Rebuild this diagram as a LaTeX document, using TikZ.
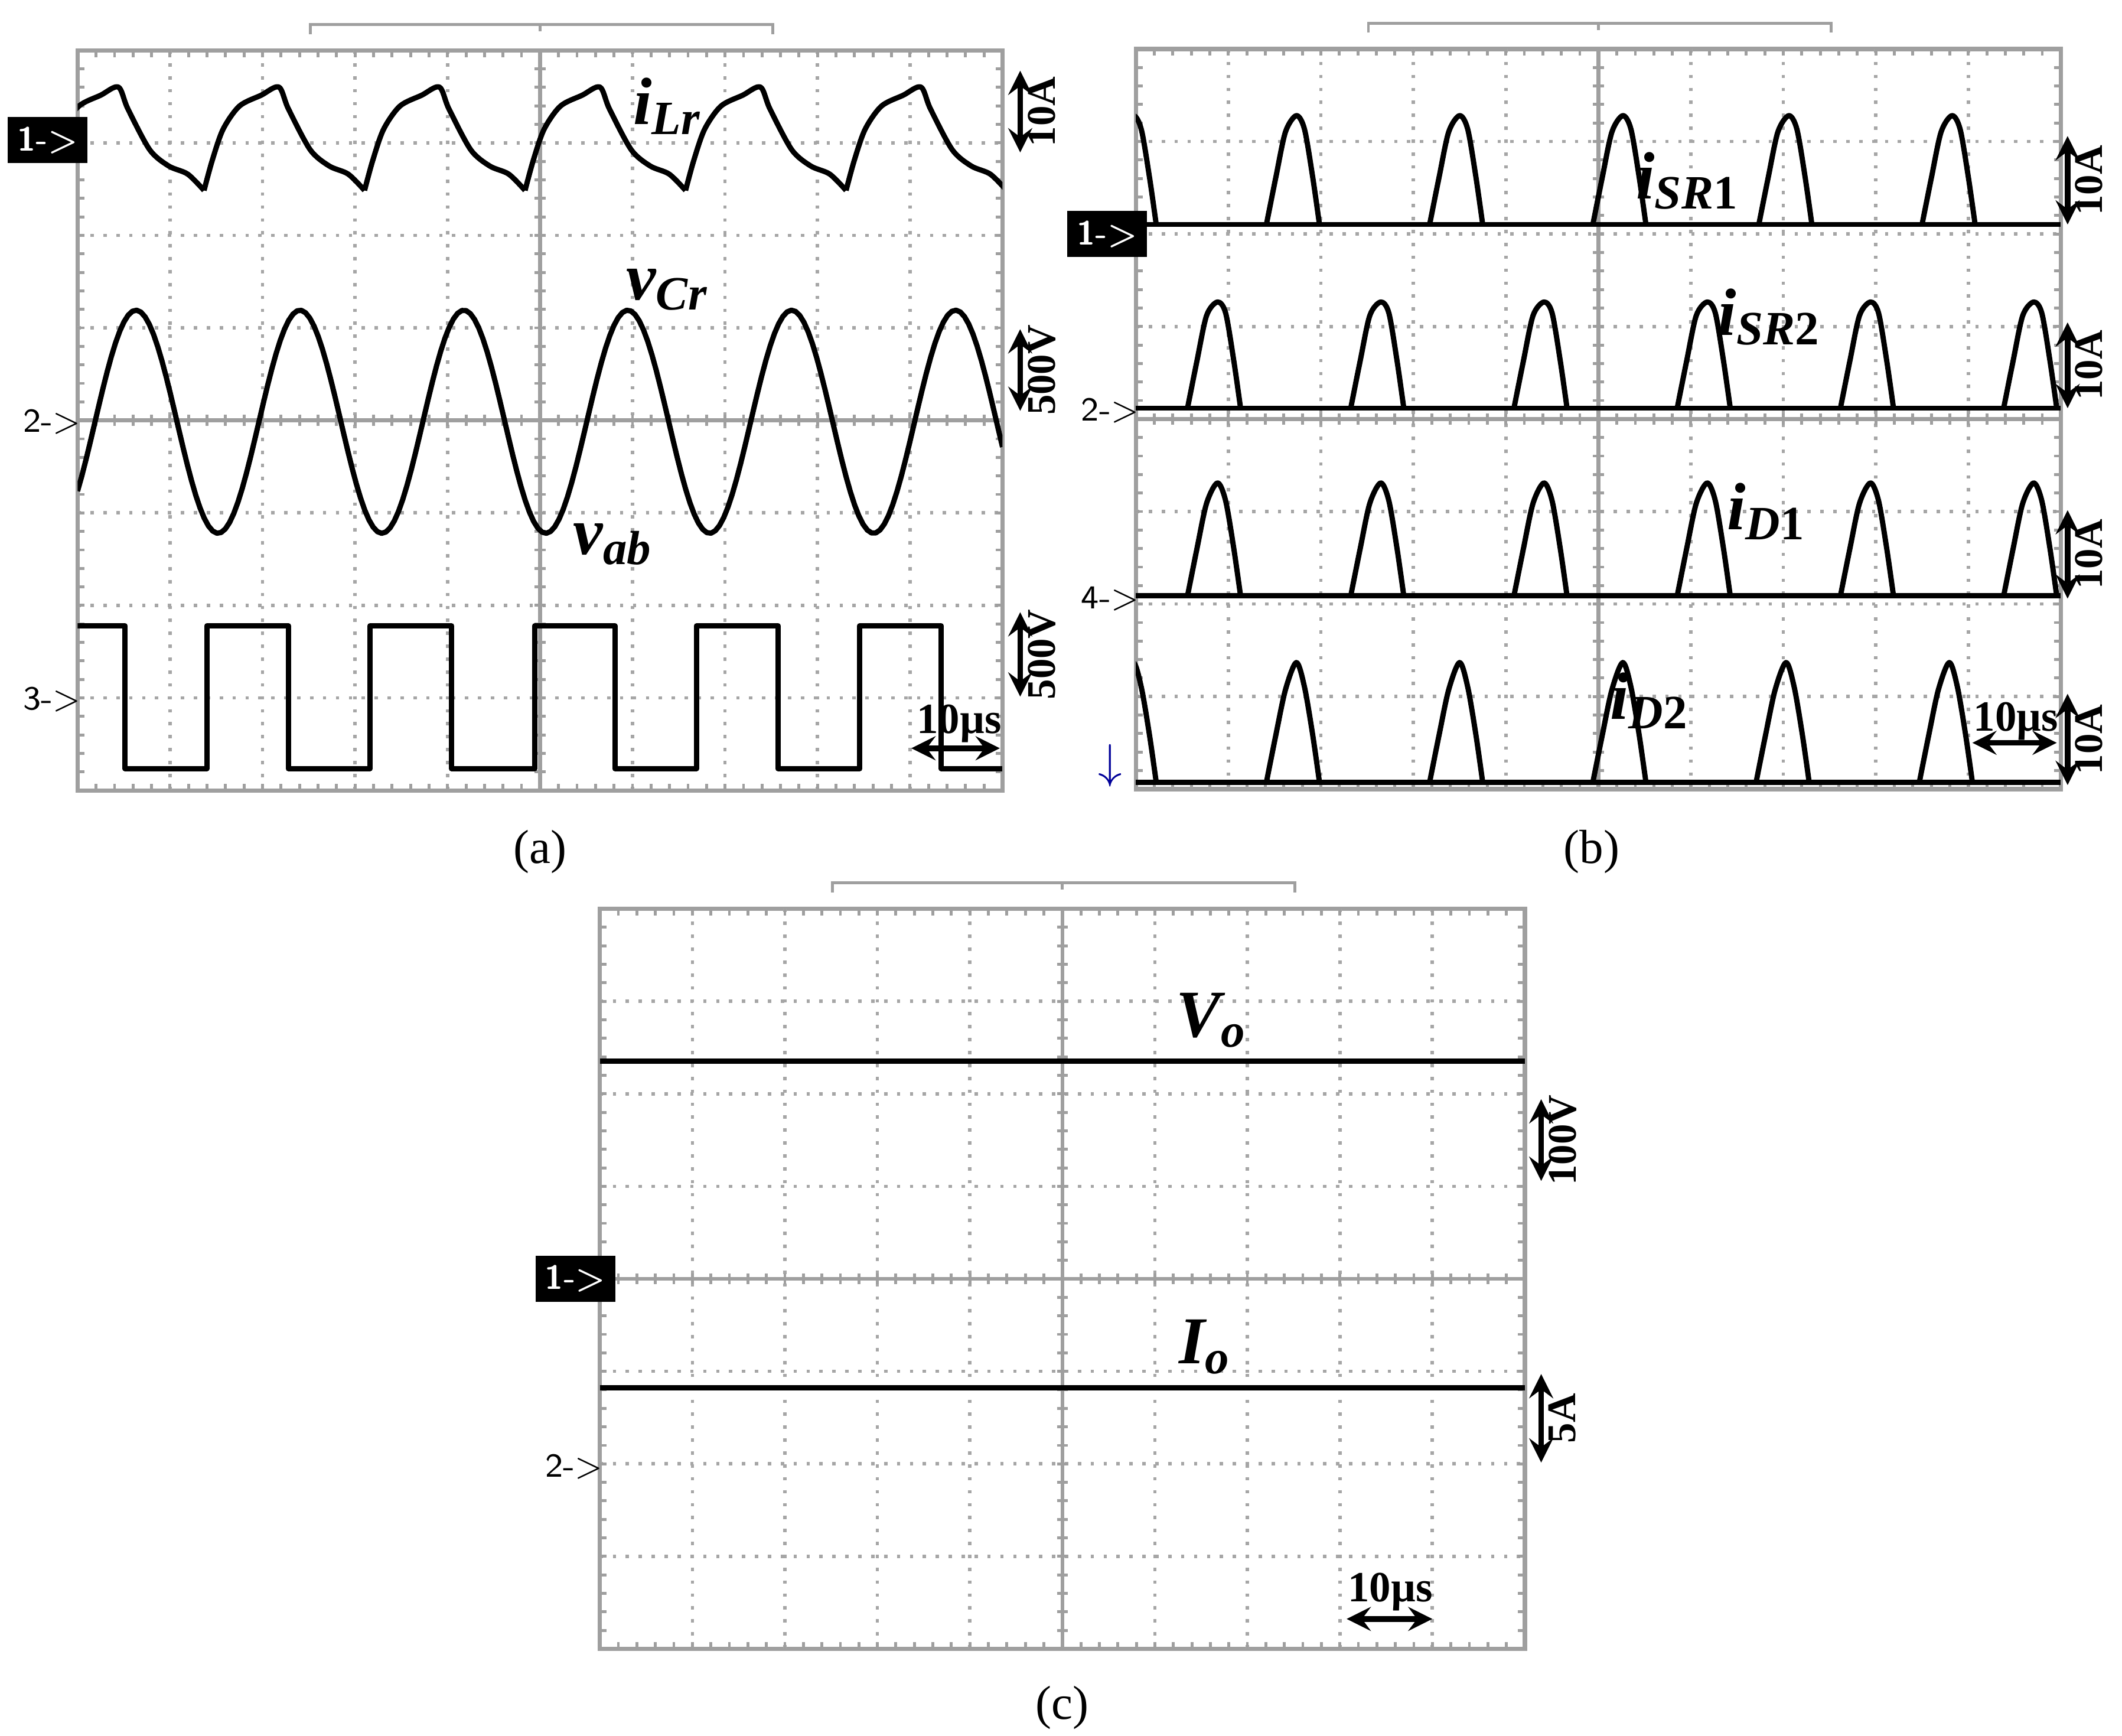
\documentclass[tikz,border=0pt]{standalone}
\usepackage{fontspec}
\setmainfont{Liberation Serif}
\newcommand{\oscgrid}[2]{%
 \draw[gridc] ({#1+171},{#2-12}) -- ++(0,-7) -- ++(340,0) -- ++(0,7);
 \draw[gridc] ({#1+340},{#2-19}) -- ++(0,5);
 \draw[gridc,line width=0.9pt] (#1,#2) rectangle ++(680,544);
 \foreach \i in {1,...,9} \draw[gridl] ({#1+\i*68},#2) -- ++(0,544);
 \foreach \j in {1,...,7} \draw[gridl] (#1,{#2+\j*68}) -- ++(680,0);
 \draw[gridc,line width=0.8pt] ({#1+340},#2) -- ++(0,544) (#1,{#2+272}) -- ++(680,0);
 \foreach \k in {1,...,49} {\draw[gridc] ({#1+\k*13.6},{#2+268}) -- ++(0,8);
   \draw[gridc] ({#1+\k*13.6},#2) -- ++(0,5); \draw[gridc] ({#1+\k*13.6},{#2+544}) -- ++(0,-5);}
 \foreach \k in {1,...,39} {\draw[gridc] ({#1+336},{#2+\k*13.6}) -- ++(8,0);
   \draw[gridc] (#1,{#2+\k*13.6}) -- ++(5,0); \draw[gridc] ({#1+680},{#2+\k*13.6}) -- ++(-5,0);}
}
\newcommand{\pulse}[3]{\draw[wave,shift={(#1,#2)}] plot[smooth,tension=0.5] coordinates {(-22,0)(-15,-35)(-8,-68)(0,-#3)(6,-70)(12,-35)(17,0)};}
\newcommand{\lab}[2]{{\fontsize{14}{16}\selectfont\bfseries\itshape #1}\raisebox{-0.45ex}{\fontsize{10}{11}\selectfont\bfseries\itshape #2}}
\begin{document}
\begin{tikzpicture}[x=0.01cm,y=-0.01cm,
  wave/.style={line width=1.1pt,black,line join=round},
  gridl/.style={gray!70,dotted,line width=0.7pt},
  gridc/.style={gray!75,line width=0.6pt},
  sarr/.style={<->,>=stealth,line width=1.2pt},
  stxt/.style={font=\fontsize{8.5}{9}\selectfont\bfseries,inner sep=1pt},
  mk/.style={font=\fontsize{7}{8}\selectfont\sffamily,inner sep=1pt},
  mkb/.style={font=\fontsize{7}{8}\selectfont\sffamily\bfseries,fill=black,text=white,inner sep=2pt},
  captxt/.style={font=\fontsize{10}{12}\selectfont}]
\useasboundingbox (0,0) rectangle (1560,1276);
% ===== (a)
\oscgrid{57}{37}
\begin{scope}
\clip (57,37) rectangle ++(680,544);
\foreach \t in {32,150,268,386,504,622,740}
  {\draw[wave,shift={(\t,0)}] plot[smooth,tension=0.5] coordinates {(0,140)(6,118)(14,95)(26,78)(42,70)(55,64)(62,80)(78,110)(92,122)(106,128)(118,140)};}
\draw[wave] plot[domain=57:737,samples=220] (\x,{310-82*cos(2.9876*(\x-100))});
\draw[wave] (57,460) -- (92,460) -- (92,565) -- (152,565) -- (152,460) -- (212,460)--(212,565)--(272,565)--(272,460)--(332,460)--(332,565)--(393,565)--(393,460)--(452,460)--(452,565)--(512,565)--(512,460)--(572,460)--(572,565)--(632,565)--(632,460)--(692,460)--(692,565)--(737,565);
\end{scope}
\node[mkb] (a1) at (35,103) {1->};
\node[mk] (a2) at (38,310) {2->};
\node[mk] (a3) at (38,514) {3->};
\node (aL1) at (490,78) {\lab{i}{Lr}};
\node (aL2) at (490,213) {\lab{v}{Cr}};
\node (aL3) at (450,400) {\lab{v}{ab}};
\coordinate (as1) at (750,52); \coordinate (ae1) at (750,112);
\draw[sarr] (as1) -- (ae1) node[midway,rotate=90,anchor=north,stxt] (at1) {10A};
\coordinate (as2) at (750,242); \coordinate (ae2) at (750,302);
\draw[sarr] (as2) -- (ae2) node[midway,rotate=90,anchor=north,stxt] (at2) {500V};
\coordinate (as3) at (750,450); \coordinate (ae3) at (750,512);
\draw[sarr] (as3) -- (ae3) node[midway,rotate=90,anchor=north,stxt] (at3) {500V};
\coordinate (ah1) at (670,550); \coordinate (ah2) at (735,550);
\draw[sarr] (ah1) -- (ah2);
\node[stxt,font=\fontsize{9}{10}\selectfont\bfseries] (ahT) at (705,532) {10µs};
\node[captxt] (capa) at (397,626) {(a)};
% ===== (b)
\oscgrid{835}{36}
\begin{scope}
\clip (835,36) rectangle ++(680,544);
\draw[wave] (835,165) -- (1515,165);
\draw[wave] (835,300) -- (1515,300);
\draw[wave] (835,438) -- (1515,438);
\draw[wave] (835,575) -- (1515,575);
\foreach \x in {833,953,1073,1193,1315,1435} {\pulse{\x}{165}{80}}
\foreach \x in {895,1015,1135,1255,1375,1495} {\pulse{\x}{300}{78}}
\foreach \x in {895,1015,1135,1255,1375,1495} {\pulse{\x}{438}{83}}
\foreach \x in {833,953,1073,1193,1313,1433} {\pulse{\x}{575}{88}}
\end{scope}
\node[mkb] (b1) at (814,172) {1->};
\node[mk] (b2) at (816,302) {2->};
\node[mk] (b4) at (816,440) {4->};
\node[text=blue!60!black,font=\fontsize{10}{10}\selectfont] (b5) at (816,563) {$\downarrow$};
\node (bL1) at (1240,133) {\lab{i}{SR\textup{1}}};
\node (bL2) at (1300,233) {\lab{i}{SR\textup{2}}};
\node (bL3) at (1298,376) {\lab{i}{D\textup{1}}};
\node (bL4) at (1212,515) {\lab{i}{D\textup{2}}};
\foreach \n/\a/\b in {1/100/165,2/237/300,3/375/440,4/510/577}{
  \coordinate (bs\n) at (1520,\a); \coordinate (be\n) at (1520,\b);
  \draw[sarr] (bs\n) -- (be\n) node[midway,rotate=90,anchor=north,stxt] (bt\n) {10A};}
\coordinate (bh1) at (1450,546); \coordinate (bh2) at (1512,546);
\draw[sarr] (bh1) -- (bh2);
\node[font=\fontsize{9}{10}\selectfont\bfseries,inner sep=1pt] (bhT) at (1482,530) {10µs};
\node[captxt] (capb) at (1170,626) {(b)};
% ===== (c)
\oscgrid{441}{668}
\draw[wave] (441,780) -- (1121,780);
\draw[wave] (441,1020) -- (1121,1020);
\node[mkb] (c1) at (423,940) {1->};
\node[mk] (c2) at (422,1078) {2->};
\node (cL1) at (890,750) {\lab{V}{o}};
\node (cL2) at (885,990) {\lab{I}{o}};
\coordinate (cs1) at (1133,808); \coordinate (ce1) at (1133,868);
\draw[sarr] (cs1) -- (ce1) node[midway,rotate=90,anchor=north,stxt] (ct1) {100V};
\coordinate (cs2) at (1133,1010); \coordinate (ce2) at (1133,1075);
\draw[sarr] (cs2) -- (ce2) node[midway,rotate=90,anchor=north,stxt] (ct2) {5A};
\coordinate (ch1) at (990,1190); \coordinate (ch2) at (1053,1190);
\draw[sarr] (ch1) -- (ch2);
\node[font=\fontsize{9}{10}\selectfont\bfseries,inner sep=1pt] (chT) at (1022,1170) {10µs};
\node[captxt] (capc) at (781,1255) {(c)};
\end{tikzpicture}
\end{document}
